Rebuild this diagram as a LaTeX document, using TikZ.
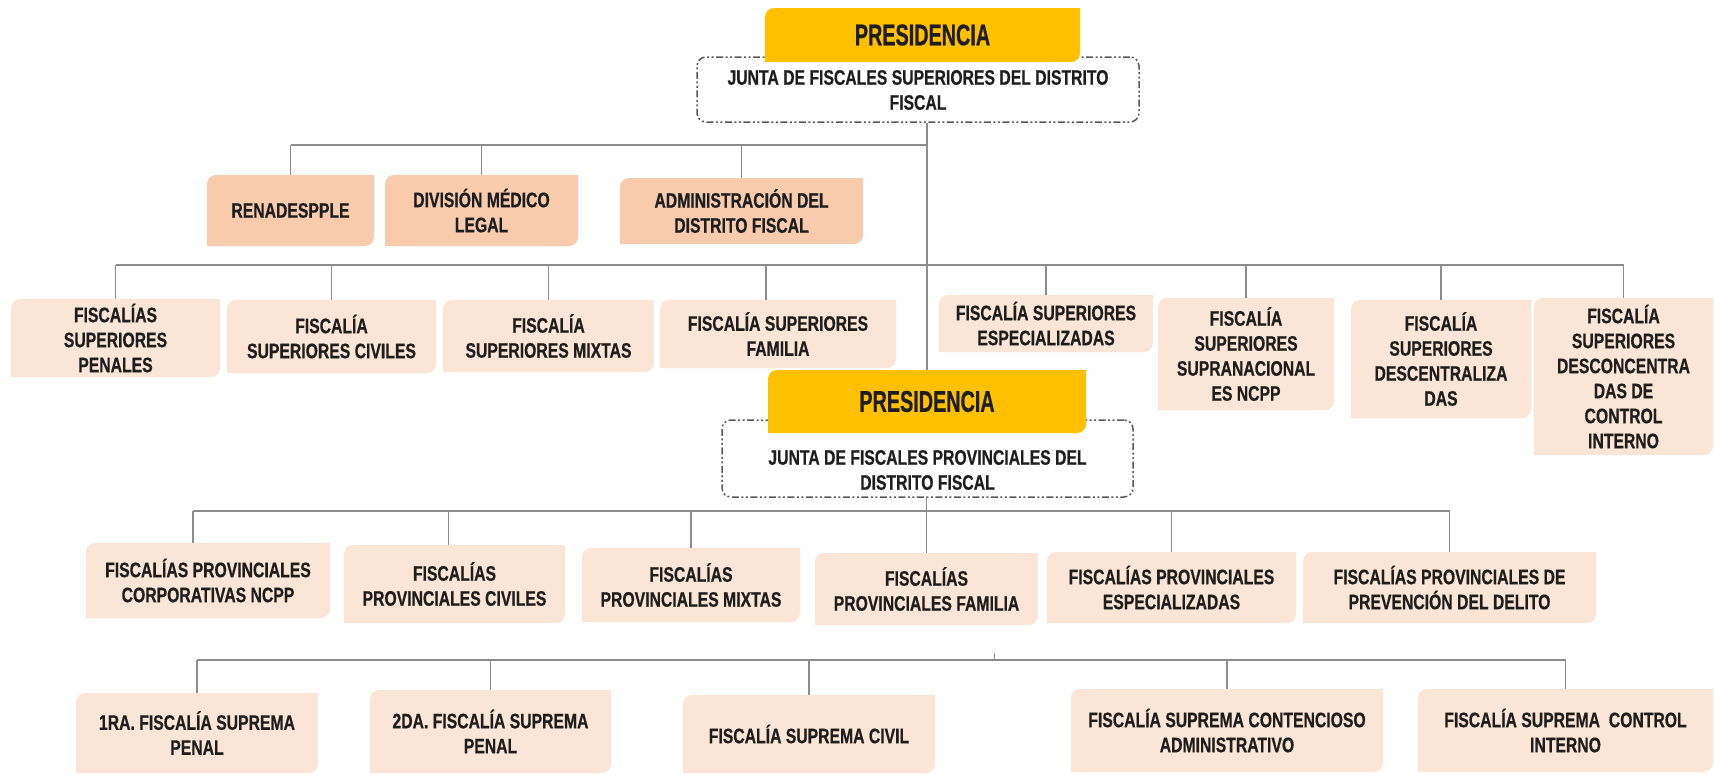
\documentclass[tikz,border=0pt]{standalone}
\usepackage{fontspec}
\newfontfamily\boxfont{Liberation Sans}[FakeStretch=0.75, FakeBold=0.6]
\newfontfamily\presfont{Liberation Sans}[FakeStretch=0.66, FakeBold=0.6]
\definecolor{presy}{HTML}{FFC000}
\definecolor{peach}{HTML}{F8CBAD}
\definecolor{lightpeach}{HTML}{FBE5D6}
\definecolor{linegray}{HTML}{8C8C8C}
\definecolor{inkdark}{HTML}{1E1E1E}
\definecolor{dashgray}{HTML}{595959}
\pgfdeclarelayer{bg}
\pgfsetlayers{bg,main}

% box with rounded top-left and bottom-right corners
% #1 name, #2 x1, #3 y1, #4 x2, #5 y2, #6 fill, #7 text
\newcommand\orgbox[7]{%
  \fill[#6] (#2,#3+9) .. controls (#2,#3+4) and (#2+4,#3) .. (#2+9,#3)
    -- (#4,#3) -- (#4,#5-9) .. controls (#4,#5-4) and (#4-4,#5) .. (#4-9,#5)
    -- (#2,#5) -- cycle;
  \node[boxtext, minimum width={(#4-#2)*1pt}, minimum height={(#5-#3)*1pt}]
    (#1) at ({(#2+#4)/2},{(#3+#5)/2}) {#7};
}

\begin{document}
\begin{tikzpicture}[x=1pt,y=-1pt,
  conn/.style={draw=linegray,line width=1.7pt},
  boxtext/.style={inner sep=0pt, align=center, text=inkdark,
    font=\boxfont\bfseries\fontsize{21}{25}\selectfont},
  presstyle/.style={inner sep=0pt, text=inkdark,
    font=\presfont\bfseries\fontsize{30}{34}\selectfont},
  juntabox/.style={draw=dashgray, line width=1.5pt, rounded corners=9pt,
    dash pattern=on 7pt off 2.5pt on 2pt off 2.5pt on 2pt off 2.5pt,
    inner sep=0pt},
]
\useasboundingbox (0,0) rectangle (1714,774);

% ---------- upper level: superior prosecutors ----------
\node[juntabox, minimum width=442pt, minimum height=65pt] (j1) at (918,89.5) {};
\node[boxtext] (j1t) at (918,90) {JUNTA DE FISCALES SUPERIORES DEL DISTRITO\\FISCAL};
\orgbox{p1}{765}{8}{1080}{62}{presy}{}
\node[presstyle] (p1t) at (p1) {PRESIDENCIA};

\orgbox{ren}{207}{175}{374}{246}{peach}{RENADESPPLE}
\orgbox{div}{385}{175}{578}{246}{peach}{DIVISIÓN MÉDICO\\LEGAL}
\orgbox{adm}{620}{178}{863}{244}{peach}{ADMINISTRACIÓN DEL\\DISTRITO FISCAL}

\orgbox{s1}{11}{299}{220}{377}{lightpeach}{FISCALÍAS\\SUPERIORES\\PENALES}
\orgbox{s2}{227}{300}{436}{373}{lightpeach}{FISCALÍA\\SUPERIORES CIVILES}
\orgbox{s3}{443}{300}{654}{372}{lightpeach}{FISCALÍA\\SUPERIORES MIXTAS}
\orgbox{s4}{660}{300}{896}{368}{lightpeach}{FISCALÍA SUPERIORES\\FAMILIA}
\orgbox{s5}{939}{295}{1153}{352}{lightpeach}{FISCALÍA SUPERIORES\\ESPECIALIZADAS}
\orgbox{s6}{1158}{298}{1334}{410}{lightpeach}{FISCALÍA\\SUPERIORES\\SUPRANACIONAL\\ES NCPP}
\orgbox{s7}{1351}{300}{1531}{418}{lightpeach}{FISCALÍA\\SUPERIORES\\DESCENTRALIZA\\DAS}
\orgbox{s8}{1534}{298}{1713}{455}{lightpeach}{FISCALÍA\\SUPERIORES\\DESCONCENTRA\\DAS DE\\CONTROL\\INTERNO}

% ---------- lower level: provincial prosecutors ----------
\node[juntabox, minimum width=411pt, minimum height=77pt] (j2) at (927.5,458.5) {};
\node[boxtext] (j2t) at (927.5,470) {JUNTA DE FISCALES PROVINCIALES DEL\\DISTRITO FISCAL};
\orgbox{p2}{768}{370}{1086}{433}{presy}{}
\node[presstyle] (p2t) at (p2) {PRESIDENCIA};

\orgbox{f1}{86}{543}{330}{618}{lightpeach}{FISCALÍAS PROVINCIALES\\CORPORATIVAS NCPP}
\orgbox{f2}{344}{545}{565}{623}{lightpeach}{FISCALÍAS\\PROVINCIALES CIVILES}
\orgbox{f3}{582}{548}{800}{622}{lightpeach}{FISCALÍAS\\PROVINCIALES MIXTAS}
\orgbox{f4}{815}{553}{1038}{625}{lightpeach}{FISCALÍAS\\PROVINCIALES FAMILIA}
\orgbox{f5}{1047}{552}{1296}{623}{lightpeach}{FISCALÍAS PROVINCIALES\\ESPECIALIZADAS}
\orgbox{f6}{1303}{552}{1596}{623}{lightpeach}{FISCALÍAS PROVINCIALES DE\\PREVENCIÓN DEL DELITO}

% ---------- supreme prosecutors ----------
\orgbox{q1}{76}{693}{318}{773}{lightpeach}{1RA. FISCALÍA SUPREMA\\PENAL}
\orgbox{q2}{370}{690}{611}{773}{lightpeach}{2DA. FISCALÍA SUPREMA\\PENAL}
\orgbox{q3}{683}{695}{935}{773}{lightpeach}{FISCALÍA SUPREMA CIVIL}
\orgbox{q4}{1071}{689}{1383}{772}{lightpeach}{FISCALÍA SUPREMA CONTENCIOSO\\ADMINISTRATIVO}
\orgbox{q5}{1418}{689}{1713}{772}{lightpeach}{FISCALÍA SUPREMA\ \ CONTROL\\INTERNO}

% ---------- connectors ----------
\coordinate (b1) at (0,145);
\coordinate (b2) at (0,265);
\coordinate (b3) at (0,511);
\coordinate (b4) at (0,660);
\coordinate (tk) at (994,653);
\begin{pgfonlayer}{bg}
  % vertical trunk from the upper board down to the lower presidency
  \draw[conn] (j1.south -| p2.north) -- (p2.north);
  \draw[conn] (ren.north |- b1) -- (p2.north |- b1);
  \foreach \n in {ren,div,adm} \draw[conn] (\n.north) -- (\n.north |- b1);

  \draw[conn] (s1.north |- b2) -- (s8.north |- b2);
  \foreach \n in {s1,s2,s3,s5,s6,s7,s8} \draw[conn] (\n.north) -- (\n.north |- b2);
  \draw[conn] ([xshift=-12pt]s4.north) -- ([xshift=-12pt]s4.north |- b2);

  \draw[conn] (j2.south -| f4.north) -- (f4.north);
  \draw[conn] ([xshift=-15pt]f1.north |- b3) -- (f6.north |- b3);
  \draw[conn] ([xshift=-15pt]f1.north) -- ([xshift=-15pt]f1.north |- b3);
  \draw[conn] ([xshift=-6pt]f2.north) -- ([xshift=-6pt]f2.north |- b3);
  \foreach \n in {f3,f5,f6} \draw[conn] (\n.north) -- (\n.north |- b3);

  \draw[conn] (q1.north |- b4) -- (q5.north |- b4);
  \foreach \n in {q1,q2,q3,q4,q5} \draw[conn] (\n.north) -- (\n.north |- b4);
  \draw[conn, line width=1pt] (tk) -- (tk |- b4);
\end{pgfonlayer}
\end{tikzpicture}
\end{document}
